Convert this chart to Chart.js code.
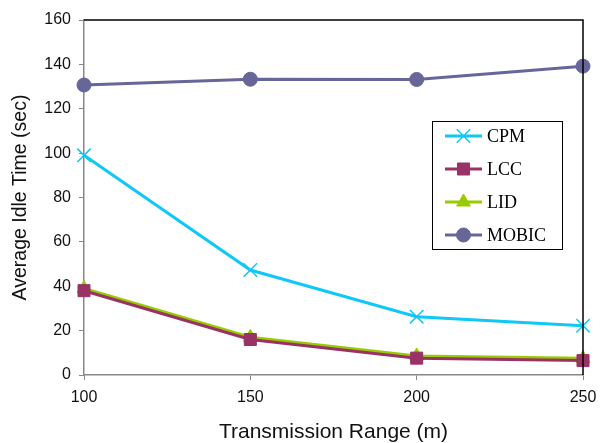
<!DOCTYPE html>
<html>
<head>
<meta charset="utf-8">
<script src="https://cdn.jsdelivr.net/npm/chart.js@4/dist/chart.umd.min.js"></script>
<style>
html,body{margin:0;padding:0;background:#fff;}
#wrap{width:600px;height:443px;position:relative;}
</style>
</head>
<body>
<div id="wrap"><canvas id="c" width="600" height="443"></canvas></div>
<script>
const categories = ['100', '150', '200', '250'];
const cpm   = [99, 47.3, 26.3, 22.2];
const lcc   = [38, 16, 7.6, 6.5];
const lid   = [39, 17, 8.6, 7.5];
const mobic = [130.7, 133.3, 133.2, 139.2];
const seriesNames = ['CPM', 'LCC', 'LID', 'MOBIC'];
const yTitle = 'Average Idle Time (sec)';
const xTitle = 'Transmission Range (m)';

const colors = ['#10C8F8', '#993366', '#99CC00', '#666699'];
const styles = ['crossRot', 'rect', 'triangle', 'circle'];
const radii = [9.5, 8.5, 8, 7];
const allData = [cpm, lcc, lid, mobic];

const datasets = allData.map((d, i) => ({
  label: seriesNames[i],
  data: d,
  borderColor: colors[i],
  backgroundColor: colors[i],
  pointBackgroundColor: colors[i],
  pointBorderColor: colors[i],
  pointStyle: styles[i],
  pointRadius: radii[i],
  pointBorderWidth: i === 0 ? 1.5 : 1,
  borderWidth: 3,
  tension: 0,
  fill: false,
  clip: false
}));

const framePlugin = {
  id: 'frame',
  afterDatasetsDraw(chart) {
    const {ctx, chartArea: a} = chart;
    ctx.save();
    ctx.strokeStyle = '#000';
    ctx.lineWidth = 1.5;
    ctx.beginPath();
    ctx.moveTo(a.left, a.top);
    ctx.lineTo(a.right, a.top);
    ctx.lineTo(a.right, a.bottom);
    ctx.stroke();
    ctx.restore();
  },
  afterDraw(chart) {
    const {ctx} = chart;
    const bx = 432, by = 121, bw = 130, bh = 128;
    ctx.save();
    ctx.fillStyle = '#fff';
    ctx.fillRect(bx, by, bw, bh);
    ctx.strokeStyle = '#000';
    ctx.lineWidth = 1;
    ctx.strokeRect(bx + 0.5, by + 0.5, bw, bh);
    chart.data.datasets.forEach((ds, i) => {
      const cy = by + 15 + i * 33;
      ctx.strokeStyle = ds.borderColor;
      ctx.lineWidth = 3;
      ctx.beginPath();
      ctx.moveTo(445, cy);
      ctx.lineTo(482, cy);
      ctx.stroke();
      ctx.fillStyle = ds.borderColor;
      ctx.strokeStyle = ds.borderColor;
      ctx.lineWidth = ds.pointBorderWidth;
      Chart.helpers.drawPoint(ctx, {pointStyle: ds.pointStyle, radius: ds.pointRadius, borderWidth: ds.pointBorderWidth, rotation: 0}, 463.5, cy);
      ctx.fillStyle = '#000';
      ctx.font = '18px "Liberation Serif", "Times New Roman", serif';
      ctx.textBaseline = 'middle';
      ctx.textAlign = 'left';
      ctx.fillText(ds.label, 487, cy + 1);
    });
    ctx.restore();
  }
};

new Chart(document.getElementById('c'), {
  type: 'line',
  data: { labels: categories, datasets },
  options: {
    responsive: false,
    animation: false,
    devicePixelRatio: 1,
    layout: { padding: { top: 20, right: 17, left: 9, bottom: 0 } },
    plugins: { legend: { display: false }, tooltip: { enabled: false } },
    scales: {
      x: {
        type: 'category',
        offset: false,
        grid: { display: true, drawOnChartArea: false, drawTicks: true, tickLength: 5, color: '#888' },
        border: { color: '#888', width: 1.5 },
        ticks: { color: '#111', font: { family: '"Liberation Sans", Arial, sans-serif', size: 16 }, padding: 8 },
        title: { display: true, text: xTitle, color: '#111', font: { family: '"Liberation Sans", Arial, sans-serif', size: 21, lineHeight: 1.0 }, padding: { top: 14, bottom: 0 } },
        afterFit(s) { s.height = 68; s.paddingRight = 0; s.paddingLeft = 0; }
      },
      y: {
        min: 0, max: 160,
        ticks: { stepSize: 20, color: '#111', font: { family: '"Liberation Sans", Arial, sans-serif', size: 16 }, padding: 8 },
        grid: { display: true, drawOnChartArea: false, drawTicks: true, tickLength: 5, color: '#888' },
        border: { color: '#888', width: 1.5 },
        title: { display: true, text: yTitle, color: '#111', font: { family: '"Liberation Sans", Arial, sans-serif', size: 19.5 }, padding: { top: 0, bottom: 8 } },
        afterFit(s) { s.width = 75; s.paddingTop = 0; s.paddingBottom = 0; }
      }
    }
  },
  plugins: [framePlugin]
});
</script>
</body>
</html>
